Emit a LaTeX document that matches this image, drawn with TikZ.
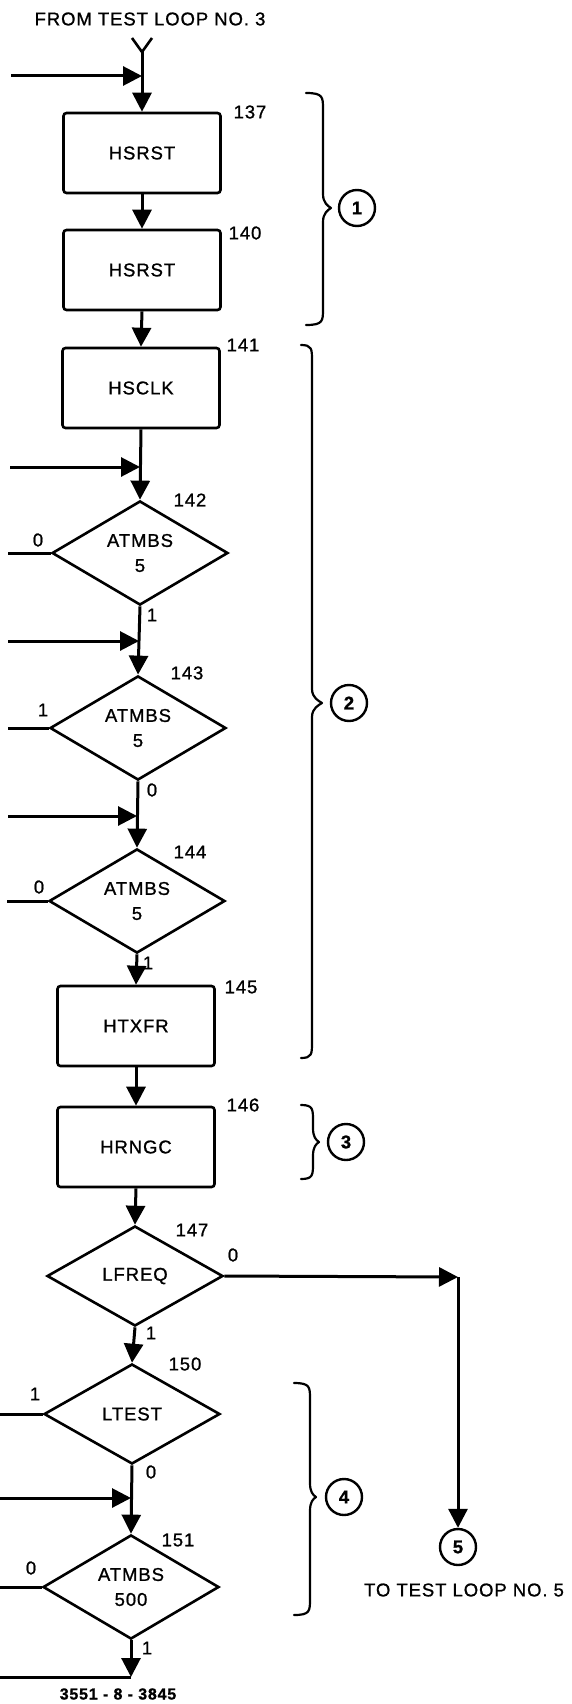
\documentclass[tikz,border=0pt]{standalone}
\usepackage{fontspec}
\setmainfont{Liberation Sans}[LetterSpace=5,FakeBold=1]
\usetikzlibrary{arrows.meta,shapes.geometric}
\newcommand\mainsize{\fontsize{18.5}{25}\selectfont}
\newcommand\brc[6]{%
  \draw[bracestyle] (#1,#4) .. controls (#2,#4) and (#2,#4+4) .. (#2,#4+16)
    -- (#2,#5-14) .. controls (#2,#5-5) and (#3-3,#5-2) .. (#3,#5)
    .. controls (#3-3,#5+2) and (#2,#5+5) .. (#2,#5+14)
    -- (#2,#6-16) .. controls (#2,#6-4) and (#2,#6) .. (#1,#6);}
\begin{document}
\begin{tikzpicture}[x=1pt,y=-1pt,
  conn/.style={line width=3pt},
  arr/.style={conn,-{Triangle[length=19pt,width=19pt]}},
  box/.style={draw,line width=2.6pt,rounded corners=3pt,minimum width=157pt,minimum height=80pt,inner sep=0pt,font=\mainsize},
  dia/.style={draw,diamond,line width=2.6pt,minimum width=176pt,minimum height=100pt,inner sep=0pt,align=center,font=\mainsize},
  lbl/.style={inner sep=0pt,font=\mainsize},
  circ/.style={draw,circle,line width=2.4pt,minimum size=36pt,inner sep=0pt,font=\mainsize\bfseries},
  bracestyle/.style={line width=2.2pt,line cap=round,line join=round}]
\useasboundingbox (0,0) rectangle (572,1704);

% title and entry
\node[lbl] (from) at (150,19) {FROM TEST LOOP NO. 3};
\coordinate (ya) at (132,38);
\coordinate (yb) at (152,38);
\coordinate (yj) at (142,52);
\draw[line width=2.6pt] (ya) -- (yj) -- (yb);

% process boxes and decisions
\node[box] (b137) at (142,153) {HSRST};
\node[box] (b140) at (142,270) {HSRST};
\node[box] (b141) at (141,388) {HSCLK};
\node[dia] (d142) at (140,553) {ATMBS\\5};
\node[dia] (d143) at (138,728) {ATMBS\\5};
\node[dia] (d144) at (137,901) {ATMBS\\5};
\node[box] (b145) at (136,1026) {HTXFR};
\node[box] (b146) at (136,1147) {HRNGC};
\node[dia] (d147) at (135,1276) {LFREQ};
\node[dia] (d150) at (132,1414) {LTEST};
\node[dia] (d151) at (131,1587) {ATMBS\\500};

% step numbers
\node[lbl] (n137) at (250,112) {137};
\node[lbl] (n140) at (245,233) {140};
\node[lbl] (n141) at (243,345) {141};
\node[lbl] (n142) at (190,500) {142};
\node[lbl] (n143) at (187,673) {143};
\node[lbl] (n144) at (190,852) {144};
\node[lbl] (n145) at (241,987) {145};
\node[lbl] (n146) at (243,1105) {146};
\node[lbl] (n147) at (192,1230) {147};
\node[lbl] (n150) at (185,1364) {150};
\node[lbl] (n151) at (178,1540) {151};

% branch labels
\node[lbl] (l142a) at (38,540) {0};
\node[lbl] (l142b) at (152,615) {1};
\node[lbl] (l143a) at (43,710) {1};
\node[lbl] (l143b) at (152,790) {0};
\node[lbl] (l144a) at (39,887) {0};
\node[lbl] (l144b) at (148,963) {1};
\node[lbl] (l147a) at (233,1255) {0};
\node[lbl] (l147b) at (151,1333) {1};
\node[lbl] (l150a) at (35,1394) {1};
\node[lbl] (l150b) at (151,1472) {0};
\node[lbl] (l151a) at (31,1568) {0};
\node[lbl] (l151b) at (147,1648) {1};

% main flow
\draw[arr] (yj) -- (b137.north);
\draw[arr] (b137.south) -- (b140.north);
\draw[arr] (b140.south) -- (b141.north);
\draw[arr] (b141.south) -- (d142.north);
\draw[arr] (d142.south) -- (d143.north);
\draw[arr] (d143.south) -- (d144.north);
\draw[arr] (d144.south) -- (b145.north);
\draw[arr] (b145.south) -- (b146.north);
\draw[arr] (b146.south) -- (d147.north);
\draw[arr] (d147.south) -- (d150.north);
\draw[arr] (d150.south) -- (d151.north);

% incoming arrows from the left
\coordinate (in0) at (11,76);   \coordinate (j0) at (142,76);
\coordinate (in1) at (10,467);  \coordinate (j1) at (140,467);
\coordinate (in2) at (8,641);   \coordinate (j2) at (139,641);
\coordinate (in3) at (8,816);   \coordinate (j3) at (137,816);
\coordinate (in4) at (0,1498);  \coordinate (j4) at (131,1498);
\draw[arr] (in0) -- (j0);
\draw[arr] (in1) -- (j1);
\draw[arr] (in2) -- (j2);
\draw[arr] (in3) -- (j3);
\draw[arr] (in4) -- (j4);

% outgoing lines to the left
\coordinate (o142) at (8,553);
\coordinate (o143) at (8,728);
\coordinate (o144) at (7,901);
\coordinate (o150) at (0,1414);
\coordinate (o151) at (0,1587);
\draw[conn] (d142.west) -- (o142);
\draw[conn] (d143.west) -- (o143);
\draw[conn] (d144.west) -- (o144);
\draw[conn] (d150.west) -- (o150);
\draw[conn] (d151.west) -- (o151);

% bottom exit
\coordinate (bc) at (131,1677);
\coordinate (bo) at (0,1677);
\draw[arr] (d151.south) -- (bc);
\draw[conn] (bc) -- (bo);
\node[inner sep=0pt,font=\fontsize{16}{18}\selectfont\bfseries] (code) at (118,1694) {3551 - 8 - 3845};

% branch to test loop 5
\node[circ] (c5) at (458,1547) {5};
\coordinate (rc) at (458,1277);
\draw[arr] (d147.east) -- (rc);
\draw[arr] (rc) -- (c5.north);
\node[lbl] (to5) at (464,1590) {TO TEST LOOP NO. 5};

% braces and group numbers
\brc{306}{323}{331}{93}{208}{325}
\node[circ] (c1) at (357,208) {1};
\brc{301}{312}{322}{345}{703}{1058}
\node[circ] (c2) at (349,703) {2};
\brc{301}{313}{319}{1105}{1142}{1179}
\node[circ] (c3) at (346,1142) {3};
\brc{294}{310}{316}{1383}{1497}{1615}
\node[circ] (c4) at (344,1497) {4};
\end{tikzpicture}
\end{document}
